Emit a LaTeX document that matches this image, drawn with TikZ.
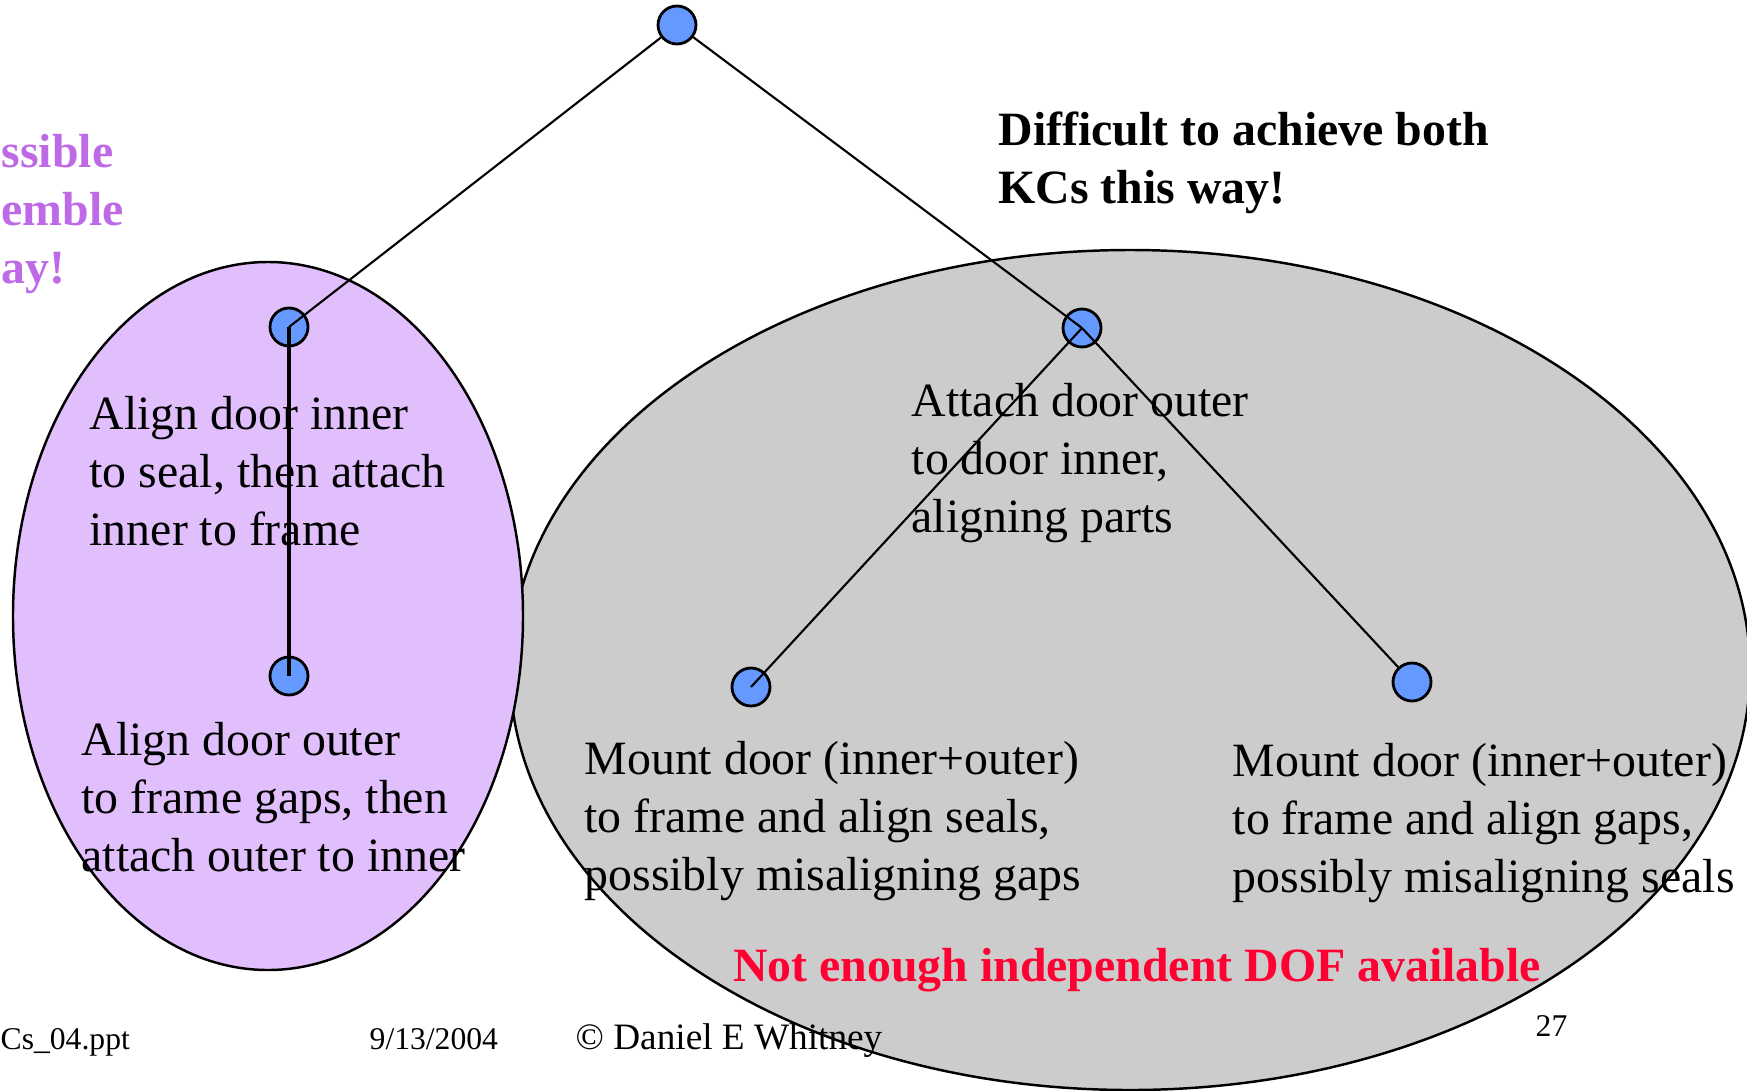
\documentclass[tikz,border=0pt]{standalone}
\usepackage{fontspec}
\setmainfont{Liberation Serif}

\definecolor{lilac}{RGB}{225,190,252}
\definecolor{lilactext}{RGB}{190,105,230}
\definecolor{dotblue}{RGB}{102,153,255}
\definecolor{shade}{RGB}{204,204,204}
\definecolor{alertred}{RGB}{255,0,51}

\begin{document}
\begin{tikzpicture}[
  dot/.style={circle,draw,line width=0.8pt,fill=dotblue,minimum size=0.38cm,inner sep=0pt},
  txt/.style={anchor=north west,align=left,inner sep=0pt,font=\fontsize{13.6}{16.5}\selectfont},
  foot/.style={anchor=base west,inner sep=0pt,font=\fontsize{9}{11}\selectfont}]

\useasboundingbox (0,0) rectangle (17.47,10.90);

% the two groupings
\draw[fill=shade,line width=0.7pt] (11.30,4.20) ellipse (6.20 and 4.20);
\draw[fill=lilac,line width=0.7pt] (2.68,4.74) ellipse (2.55 and 3.54);

% side remarks
\node[txt,text=lilactext,font=\fontsize{13.6}{16.5}\selectfont\bfseries] (nogo) at (0.01,9.56) {ssible\\emble\\ay!};
\node[txt,font=\fontsize{13.6}{16.5}\selectfont\bfseries] (hard) at (9.98,9.79) {Difficult to achieve both\\KCs this way!};
\node[text=alertred,inner sep=0pt,font=\fontsize{13.6}{16.5}\selectfont\bfseries] (dof) at (11.37,1.20) {Not enough independent DOF available};

% steps
\node[txt] (innertxt) at (0.89,6.94) {Align door inner\\to seal, then attach\\inner to frame};
\node[txt] (outertxt) at (0.81,3.68) {Align door outer\\to frame gaps, then\\attach outer to inner};
\node[txt] (attachtxt) at (9.11,7.07) {Attach door outer\\to door inner,\\aligning parts};
\node[txt] (sealtxt) at (5.84,3.49) {Mount door (inner+outer)\\to frame and align seals,\\possibly misaligning gaps};
\node[txt] (gaptxt) at (12.32,3.47) {Mount door (inner+outer)\\to frame and align gaps,\\possibly misaligning seals};

% tree
\node[dot] (top) at (6.77,10.65) {};
\node[dot] (lft) at (2.89,7.63) {};
\node[dot] (lftlow) at (2.89,4.14) {};
\node[dot] (mid) at (10.82,7.62) {};
\node[dot] (midl) at (7.51,4.03) {};
\node[dot] (midr) at (14.12,4.08) {};

\draw[line width=0.6pt] (top) -- (lft.center);
\draw[line width=0.6pt] (top) -- (mid.center);
\draw[line width=1pt] (lft.center) -- (lftlow.center);
\draw[line width=0.6pt] (mid.center) -- (midl.center);
\draw[line width=0.6pt] (mid.center) -- (midr);

% footer
\node[foot] (file) at (0.0,0.41) {Cs\_04.ppt};
\node[foot] (date) at (3.69,0.41) {9/13/2004};
\node[foot,font=\fontsize{10.6}{12}\selectfont] (owner) at (5.75,0.41) {\textcopyright{} Daniel E Whitney};
\node[foot] (page) at (15.35,0.54) {27};

\end{tikzpicture}
\end{document}
